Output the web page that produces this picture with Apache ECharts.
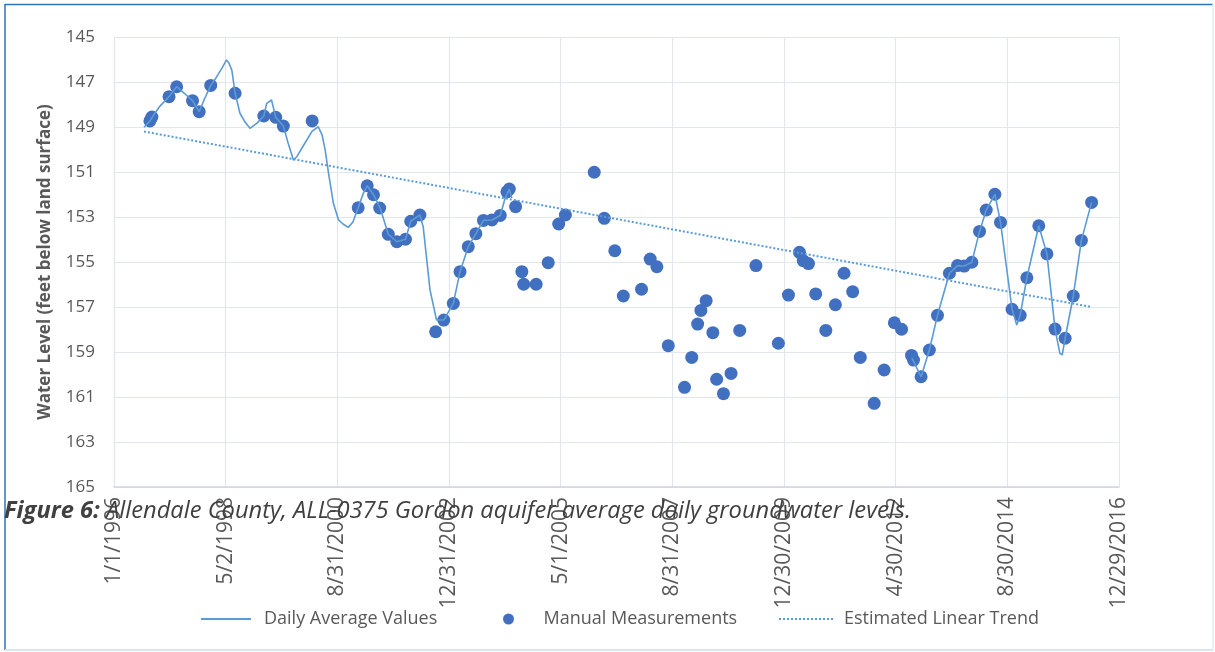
<!DOCTYPE html>
<html>
<head>
<meta charset="utf-8">
<script src="https://cdn.jsdelivr.net/npm/echarts@6/dist/echarts.min.js"></script>
<style>
  html, body { margin: 0; padding: 0; background: #fff; }
  #chart { width: 1215px; height: 652px; }
</style>
</head>
<body>
<div id="chart"></div>
<script>
// Excel date axis: major unit 852 days from 1/1/1996
const xTickLabels = ['1/1/1996', '5/2/1998', '8/31/2000', '12/31/2002', '5/1/2005',
  '8/31/2007', '12/30/2009', '4/30/2012', '8/30/2014', '12/29/2016']
const xTickStep = 852

// manual measurements (feet below land surface)
const manualDates = [
  '1996-10-01', '1996-10-16', '1997-02-24', '1997-04-23', '1997-08-22', '1997-10-12', '1998-01-08', '1998-07-13',
  '1999-02-17', '1999-05-19', '1999-07-16', '2000-02-21', '2001-02-06', '2001-04-16', '2001-06-03', '2001-07-20',
  '2001-09-24', '2001-11-28', '2002-02-02', '2002-03-14', '2002-05-23', '2002-09-20', '2002-11-21', '2003-02-02',
  '2003-03-25', '2003-05-27', '2003-07-24', '2003-09-20', '2003-11-24', '2004-01-26', '2004-03-17', '2004-04-04',
  '2004-05-22', '2004-07-09', '2004-07-23', '2004-10-26', '2005-01-26', '2005-04-16', '2005-06-06', '2006-01-12',
  '2006-03-30', '2006-06-18', '2006-08-22', '2007-01-08', '2007-03-15', '2007-05-05', '2007-07-31', '2007-12-02',
  '2008-01-26', '2008-03-11', '2008-04-05', '2008-05-15', '2008-07-05', '2008-08-03', '2008-09-24', '2008-11-21',
  '2009-01-26', '2009-05-30', '2009-11-17', '2010-02-02', '2010-04-27', '2010-05-26', '2010-07-05', '2010-08-29',
  '2010-11-14', '2011-01-26', '2011-04-02', '2011-06-07', '2011-08-04', '2011-11-18', '2012-02-02', '2012-04-20',
  '2012-06-14', '2012-08-29', '2012-09-13', '2012-11-10', '2013-01-12', '2013-03-15', '2013-06-14', '2013-08-15',
  '2013-10-05', '2013-12-02', '2014-01-30', '2014-03-22', '2014-05-27', '2014-07-09', '2014-10-05', '2014-12-06',
  '2015-01-26', '2015-04-27', '2015-06-28', '2015-08-29', '2015-11-14', '2016-01-15', '2016-03-17', '2016-06-03'
]
const manualValues = [
  148.73, 148.56, 147.65, 147.21, 147.83, 148.32, 147.15, 147.50,
  148.51, 148.57, 148.96, 148.73, 152.59, 151.61, 152.01, 152.60,
  153.77, 154.10, 153.99, 153.19, 152.91, 158.10, 157.58, 156.84,
  155.43, 154.32, 153.74, 153.15, 153.13, 152.93, 151.88, 151.76,
  152.54, 155.43, 155.99, 155.99, 155.03, 153.31, 152.91, 151.01,
  153.06, 154.50, 156.51, 156.21, 154.87, 155.21, 158.72, 160.57,
  159.24, 157.76, 157.15, 156.72, 158.14, 160.21, 160.85, 159.95,
  158.04, 155.16, 158.61, 156.47, 154.57, 154.94, 155.07, 156.42,
  158.04, 156.90, 155.50, 156.32, 159.24, 161.28, 159.80, 157.70,
  157.99, 159.15, 159.36, 160.10, 158.91, 157.37, 155.50, 155.16,
  155.18, 155.01, 153.64, 152.69, 151.99, 153.24, 157.10, 157.37,
  155.70, 153.39, 154.64, 157.98, 158.39, 156.51, 154.04, 152.35
]

// daily average record, first period
const dailyDatesA = [
  '1996-08-17', '1996-10-01', '1996-10-24', '1996-12-17', '1997-02-24', '1997-04-23', '1997-06-18', '1997-08-22',
  '1997-10-12', '1997-11-18', '1998-01-08', '1998-02-17', '1998-04-04', '1998-05-08', '1998-05-27', '1998-06-18',
  '1998-07-13', '1998-08-19', '1998-09-27', '1998-11-03', '1998-12-25', '1999-02-17', '1999-03-11', '1999-04-17',
  '1999-05-19', '1999-07-16', '1999-08-22', '1999-10-01', '1999-10-27', '1999-12-28', '2000-02-21', '2000-04-08',
  '2000-05-07', '2000-05-30', '2000-06-25', '2000-08-01', '2000-09-09', '2000-10-13', '2000-11-22', '2000-12-28',
  '2001-02-06', '2001-03-17', '2001-04-16', '2001-06-03', '2001-07-23', '2001-09-24', '2001-11-28', '2002-02-02',
  '2002-03-14', '2002-05-23', '2002-06-17', '2002-08-08', '2002-09-27', '2002-11-21', '2003-02-02', '2003-03-25',
  '2003-05-27', '2003-07-24', '2003-09-20', '2003-11-24', '2004-01-26', '2004-03-03', '2004-04-04', '2004-04-23'
]
const dailyValuesA = [
  149.01, 148.73, 148.51, 148.07, 147.65, 147.21, 147.49, 147.83,
  148.32, 147.80, 147.15, 146.82, 146.38, 146.02, 146.16, 146.47,
  147.50, 148.39, 148.78, 149.06, 148.84, 148.51, 147.95, 147.80,
  148.57, 148.96, 149.72, 150.47, 150.32, 149.71, 149.18, 148.99,
  149.36, 150.02, 151.06, 152.39, 153.13, 153.31, 153.46, 153.22,
  152.59, 151.95, 151.61, 152.01, 152.59, 153.77, 154.10, 153.99,
  153.19, 152.91, 153.43, 156.24, 157.58, 157.58, 156.84, 155.43,
  154.32, 153.74, 153.15, 153.13, 152.93, 152.17, 151.76, 152.16
]

// daily average record, second period
const dailyDatesB = [
  '2012-09-01', '2012-11-10', '2013-01-12', '2013-03-15', '2013-06-14', '2013-08-15', '2013-10-05', '2013-12-02',
  '2014-01-30', '2014-03-22', '2014-05-27', '2014-07-09', '2014-10-05', '2014-11-10', '2014-12-06', '2015-01-26',
  '2015-04-27', '2015-06-28', '2015-08-29', '2015-10-05', '2015-10-23', '2015-11-14', '2016-01-15', '2016-03-17',
  '2016-06-03'
]
const dailyValuesB = [
  159.27, 160.10, 158.91, 157.37, 155.50, 155.16, 155.18, 155.01,
  153.64, 152.69, 151.99, 153.24, 157.10, 157.80, 157.37, 155.70,
  153.39, 154.64, 157.98, 159.06, 159.13, 158.39, 156.51, 154.04,
  152.35
]

const trendDates = ['1996-08-17', '2016-06-03']
const trendValues = [149.2, 157.0]

const day0 = Date.UTC(1996, 0, 1)
function toDay(s) {
  const p = s.split('-')
  return (Date.UTC(+p[0], +p[1] - 1, +p[2]) - day0) / 86400000
}
function pairs(dates, vals) {
  return dates.map((d, i) => [toDay(d), vals[i]])
}

const textColor = '#595959'
const gridColor = '#e2e7ee'
const font = 'Open Sans'
const legendText = { color: textColor, fontFamily: font, fontSize: 18 }

const chart = echarts.init(document.getElementById('chart'))
chart.setOption({
  backgroundColor: '#fff',
  animation: false,
  grid: { left: 114, right: 96, top: 37, bottom: 165, containLabel: false },
  xAxis: {
    type: 'value',
    min: 0,
    max: xTickStep * (xTickLabels.length - 1),
    interval: xTickStep,
    axisLine: { lineStyle: { color: '#cdd6e2', width: 1.5 } },
    axisTick: { show: false },
    splitLine: { show: true, lineStyle: { color: gridColor, width: 1.2 } },
    axisLabel: {
      rotate: 90,
      margin: 10,
      color: textColor,
      fontFamily: font,
      fontSize: 21,
      formatter: (v) => xTickLabels[Math.round(v / xTickStep)]
    }
  },
  yAxis: {
    type: 'value',
    inverse: true,
    min: 145,
    max: 165,
    interval: 2,
    name: 'Water Level (feet below land surface)',
    nameLocation: 'middle',
    nameGap: 60,
    nameTextStyle: { color: textColor, fontFamily: font, fontSize: 17, fontWeight: 'bold' },
    axisLine: { show: true, lineStyle: { color: gridColor, width: 1.2 } },
    axisTick: { show: false },
    splitLine: { lineStyle: { color: gridColor, width: 1.2 } },
    axisLabel: { color: textColor, fontFamily: font, fontSize: 17, margin: 19 }
  },
  legend: [
    {
      data: ['Daily Average Values'], left: 200, top: 610, padding: 0,
      itemWidth: 50, itemHeight: 14, itemStyle: { opacity: 0 },
      textStyle: Object.assign({ padding: [0, 0, 0, 8] }, legendText)
    },
    {
      data: ['Manual Measurements'], left: 503, top: 610, padding: 0,
      itemWidth: 60, itemHeight: 11,
      textStyle: legendText
    },
    {
      data: ['Estimated Linear Trend'], left: 778, top: 610, padding: 0,
      itemWidth: 55, itemHeight: 14, itemStyle: { opacity: 0 },
      textStyle: Object.assign({ padding: [0, 0, 0, 5] }, legendText)
    }
  ],
  series: [
    {
      name: 'Daily Average Values', type: 'line', symbol: 'none',
      data: pairs(dailyDatesA, dailyValuesA),
      lineStyle: { color: '#5b9bd5', width: 1.6 }, itemStyle: { color: '#5b9bd5' }
    },
    {
      name: 'Daily Average Values', type: 'line', symbol: 'none',
      data: pairs(dailyDatesB, dailyValuesB),
      lineStyle: { color: '#5b9bd5', width: 1.6 }, itemStyle: { color: '#5b9bd5' }
    },
    {
      name: 'Estimated Linear Trend', type: 'line', symbol: 'none',
      data: pairs(trendDates, trendValues),
      lineStyle: { color: '#5b9bd5', width: 2, type: [2, 2] }, itemStyle: { color: '#5b9bd5' }
    },
    {
      name: 'Manual Measurements', type: 'scatter', symbolSize: 13,
      data: pairs(manualDates, manualValues),
      itemStyle: { color: '#4270c0', opacity: 1 }
    }
  ],
  graphic: [
    { type: 'line', shape: { x1: 5, y1: 4.5, x2: 1213, y2: 4.5 }, style: { stroke: '#2e75b6', lineWidth: 1.5 }, z: 100 },
    { type: 'line', shape: { x1: 5, y1: 4, x2: 5, y2: 650 }, style: { stroke: '#2e75b6', lineWidth: 1.5 }, z: 100 },
    { type: 'line', shape: { x1: 1213, y1: 4, x2: 1213, y2: 650 }, style: { stroke: '#e4ebf4', lineWidth: 1.5 }, z: 100 },
    { type: 'line', shape: { x1: 5, y1: 650, x2: 1213, y2: 650 }, style: { stroke: '#dce6f2', lineWidth: 2 }, z: 100 },
    {
      type: 'text', left: 4, top: 499, z: 100,
      style: {
        text: '{b|Figure 6:} Allendale County, ALL-0375 Gordon aquifer average daily groundwater levels.',
        fontFamily: font, fontStyle: 'italic', fontSize: 23.7, fill: '#404040',
        rich: { b: { fontFamily: font, fontStyle: 'italic', fontWeight: 'bold', fontSize: 23.7, fill: '#404040' } }
      }
    }
  ]
})
</script>
</body>
</html>
